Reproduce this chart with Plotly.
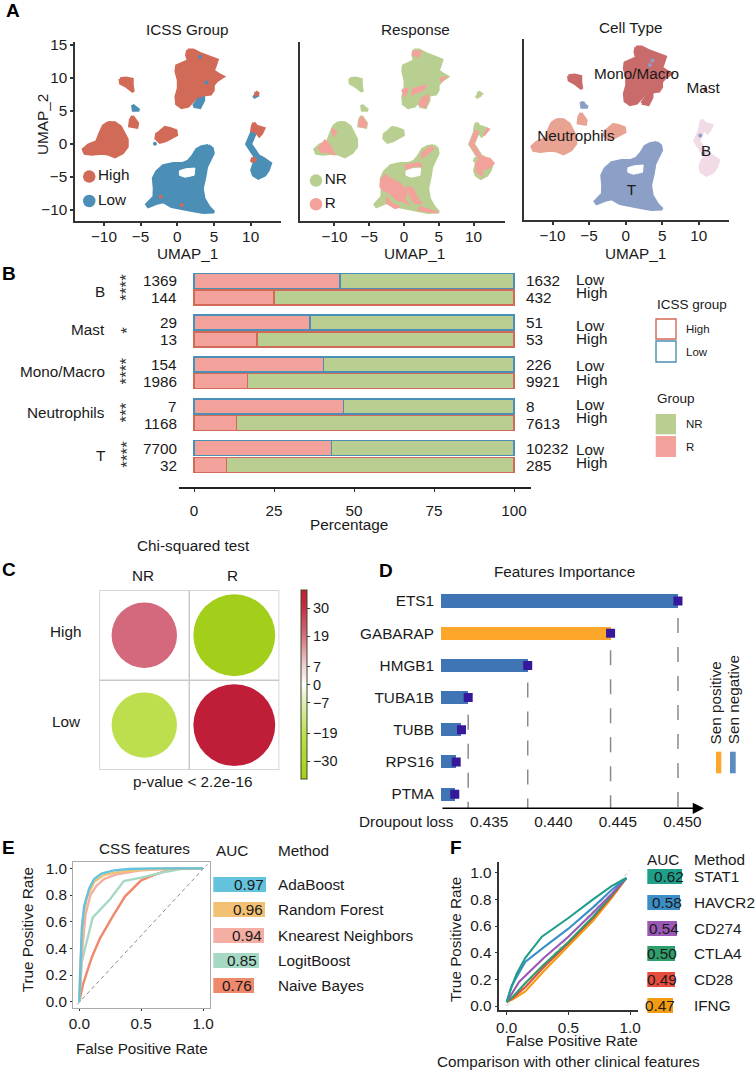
import plotly.graph_objects as go

W, H = 755, 1071
FONT = "Liberation Sans"
FS = 15.3
INK = "#1a1a1a"

# ---- Panel A: cluster outlines (x list, y list) ----
mono_x = [1.41, 2.18, 3.09, 4.23, 5.45, 5.14, 4.91, 5.59, 6.27, 5.36, 4.91, 4.91, 4.55, 3.55, 2.64, 2.05, 1.5, 0.59,
          -0.09, -0.18, 0.14, 0.14, -0.18, -0.09, 0.73, 1.5, 1.27]
mono_y = [14.23, 14.23, 13.73, 13.22, 12.72, 11.7, 11.09, 10.59, 10.18, 9.52, 8.92, 8.16, 7.55, 7.4, 7.14, 6.38, 5.72,
          5.47, 6.03, 7.14, 8.41, 9.68, 10.94, 11.85, 12.2, 12.61, 13.47]
mono_low_x = [2.2, 2.9, 3.6, 3.6, 3.1]
mono_low_y = [5.7, 6.9, 7.4, 6.6, 5.5]
mono2_x = [-7.82, -7.0, -6.14, -6.14, -6.0, -6.36, -7.0, -7.73]
mono2_y = [9.88, 9.98, 9.78, 8.92, 7.9, 8.26, 8.76, 9.17]
speck_x = [-6.1, -5.2, -6.0]
speck_y = [5.9, 5.1, 5.1]
neu2_x = [-6.1, -5.4, -5.5, -6.5, -6.4]
neu2_y = [4.2, 3.1, 2.5, 2.7, 3.6]
neu_x = [-9.41, -8.5, -7.73, -7.27, -6.82, -6.82, -7.45, -8.5, -9.41, -10.32, -11.68, -12.59, -12.82, -12.14, -11.0,
         -10.55, -10.09]
neu_y = [3.24, 3.19, 2.58, 1.57, 0.66, -0.46, -1.37, -1.98, -1.57, -1.47, -1.62, -1.47, -0.86, -0.2, 0.3, 1.57, 2.68]
neu3_x = [-2.36, -1.68, -1.0, -0.18, -0.09, -0.77, -1.55, -2.36, -2.91, -2.82]
neu3_y = [1.82, 2.48, 2.33, 1.98, 1.32, 0.96, 0.46, 0.2, 0.81, 1.47]
t_x = [4.23, 4.77, 4.91, 4.45, 4.0, 3.77, 3.41, 3.64, 4.36, 5.0, 3.55, 2.18, 0.59, -0.77, -1.91, -2.82, -3.95, -4.18,
       -3.18, -3.14, -3.27, -2.82, -1.91, -0.55, 0.73, 1.5, 2.09, 2.64, 3.32]
t_y = [-0.25, -0.71, -1.47, -2.38, -3.5, -5.02, -6.79, -8.31, -9.68, -10.38, -10.44, -10.18, -9.88, -9.57, -8.81,
       -9.07, -9.57, -9.22, -8.05, -6.79, -5.27, -4.26, -3.34, -2.99, -2.99, -2.63, -1.87, -0.86, -0.46]
hole_x = [0.3, 1.2, 2.4, 2.3, 1.05, 0.3]
hole_y = [-4.1, -3.8, -3.7, -4.8, -5.1, -4.8]
b_low_x = [11.14, 11.73, 12.73, 12.41, 11.95, 11.05, 10.36, 10.14, 10.45, 10.91]
b_low_y = [-1.87, -2.23, -2.99, -4.0, -4.76, -5.27, -4.76, -4.0, -2.99, -2.38]
b_strip_x = [10.23, 10.73, 10.0, 11.18, 10.82, 9.45]
b_strip_y = [1.98, 1.82, -0.05, -1.98, -2.38, -0.05]
b_high_x = [10.45, 10.82, 11.82, 11.5, 11.18, 10.73, 10.14, 10.23]
b_high_y = [3.19, 2.68, 2.33, 1.57, 1.17, 1.82, 1.98, 2.68]
mast_hi_x = [10.7, 11.1, 10.7]
mast_hi_y = [7.9, 7.6, 7.4]
mast_lo_x = [10.7, 10.9, 10.4]
mast_lo_y = [7.5, 7.3, 7.0]
b_spot_x = [10.3, 10.7, 10.1]
b_spot_y = [-2.1, -2.5, -2.7]

# stray cells visible on top of the clusters
high_dots_x = [-2.27, 0.6]
high_dots_y = [-8.05, -9.3]
low_dots_x = [3.1, 4.0, -3.05]
low_dots_y = [13.2, 9.3, 0.0]
type_dots_x = [3.65, 3.3, 10.2, 10.6, -5.8, 10.9]
type_dots_y = [12.2, 11.5, 0.8, -2.0, 5.7, 7.8]
type_dots_c = ["T", "T", "T", "T", "T", "Mast"]

# responder patches of the Response panel
r_patches = [
    ([1.25, 2.5, 2.1, 1.25], [14.1, 14.0, 13.2, 13.5]),
    ([-0.3, 0.6, 0.15], [8.2, 8.4, 7.1]),
    ([1.3, 3.3, 2.8, 1.1], [8.4, 8.9, 8.2, 7.4]),
    ([2.1, 2.5, 3.5, 3.5, 3.0], [5.9, 6.9, 7.4, 6.6, 5.5]),
    ([5.2, 6.1, 5.4], [9.9, 10.2, 9.4]),
    ([-12.33, -11.37, -10.65, -9.93, -11.13, -11.85], [-0.71, 0.56, -0.2, -1.72, -1.22, -1.37]),
    ([-10.41, -9.69, -10.17], [2.33, 1.82, 1.06]),
    ([-3.36, -2.73, -1.53, -0.58, 0.38, 0.14, 0.86, -0.1, -1.05, -2.01, -2.97, -3.45],
     [-5.52, -4.76, -5.52, -6.03, -7.04, -8.56, -9.32, -8.81, -8.56, -7.55, -7.04, -6.54]),
    ([0.38, 1.34, 1.82, 2.54, 1.58, 0.86], [-6.54, -6.79, -8.05, -9.07, -9.07, -8.05]),
    ([-2.49, -1.77, -0.58, -1.29, -2.49], [-8.05, -9.07, -9.57, -9.83, -9.07]),
    ([2.3, 3.74, 4.94, 3.26, 2.06], [-9.57, -10.08, -10.44, -10.33, -10.08]),
    ([2.54, 3.74, 4.32, 3.5, 2.54], [-1.47, -0.46, -0.71, -1.37, -2.23]),
    ([0.14, 2.3, 2.54, 1.34, 0.38], [-3.24, -2.89, -3.5, -3.34, -4.0]),
    ([10.26, 11.17, 12.37, 12.95, 12.13, 11.17, 11.32, 10.46], [-2.99, -1.98, -2.23, -2.99, -3.75, -4.0, -5.02, -4.26]),
    (b_strip_x, b_strip_y),
    ([11.9, 12.3, 11.5], [2.3, 2.2, 1.2]),
    (neu2_x, neu2_y),
]

# ---- Panel B ----
cell_types = ["B", "Mast", "Mono/Macro", "Neutrophils", "T"]
stars = ["****", "*", "****", "***", "****"]
low_r = [1369, 29, 154, 7, 7700]
low_nr = [1632, 51, 226, 8, 10232]
high_r = [144, 13, 1986, 1168, 32]
high_nr = [432, 53, 9921, 7613, 285]
pct_ticks = [0, 25, 50, 75, 100]

# ---- Panel C ----
chi_cols = ["NR", "R"]
chi_rows = ["High", "Low"]
chi_values = [[20, -37], [-20, 37]]
chi_ticks = [30, 19, 7, 0, -7, -19, -30]

# ---- Panel D ----
genes = ["ETS1", "GABARAP", "HMGB1", "TUBA1B", "TUBB", "RPS16", "PTMA"]
dropout = [0.44966, 0.44443, 0.43800, 0.43338, 0.43286, 0.43245, 0.43234]
sen_sign = ["neg", "pos", "neg", "neg", "neg", "neg", "neg"]
loss_ticks = [0.435, 0.440, 0.445, 0.450]

# ---- Panel E ----
e_methods = ["AdaBoost", "Random Forest", "Knearest Neighbors", "LogitBoost", "Naive Bayes"]
e_auc = [0.97, 0.96, 0.94, 0.85, 0.76]
e_fpr = [
    [0, 0.01, 0.02, 0.04, 0.08, 0.12, 0.18, 0.28, 0.4, 0.6, 1],
    [0, 0.01, 0.03, 0.06, 0.12, 0.2, 0.3, 0.5, 0.7, 1],
    [0, 0.02, 0.05, 0.09, 0.14, 0.2, 0.3, 0.5, 0.7, 1],
    [0, 0.02, 0.06, 0.108, 0.25, 0.36, 0.5, 0.7, 0.85, 1],
    [0, 0.03, 0.1, 0.167, 0.27, 0.37, 0.5, 0.6, 0.7, 0.8, 1],
]
e_tpr = [
    [0, 0.35, 0.55, 0.72, 0.85, 0.92, 0.96, 0.985, 0.995, 1, 1],
    [0, 0.3, 0.62, 0.78, 0.9, 0.95, 0.97, 0.99, 0.998, 1],
    [0, 0.35, 0.65, 0.8, 0.87, 0.92, 0.955, 0.985, 0.995, 1],
    [0, 0.3, 0.45, 0.63, 0.77, 0.905, 0.93, 0.975, 1, 1],
    [0, 0.13, 0.33, 0.475, 0.64, 0.79, 0.91, 0.95, 0.98, 1, 1],
]

# ---- Panel F ----
f_methods = ["STAT1", "HAVCR2", "CD274", "CTLA4", "CD28", "IFNG"]
f_auc = [0.62, 0.58, 0.54, 0.50, 0.49, 0.47]
f_fpr = [
    [0, 0.03, 0.08, 0.15, 0.285, 0.5, 0.7, 0.85, 0.97],
    [0, 0.04, 0.1, 0.15, 0.3, 0.5, 0.7, 0.85, 0.97],
    [0, 0.05, 0.1, 0.3, 0.5, 0.7, 0.85, 0.97],
    [0, 0.05, 0.15, 0.3, 0.5, 0.7, 0.85, 0.97],
    [0, 0.05, 0.15, 0.3, 0.5, 0.7, 0.85, 0.97],
    [0, 0.05, 0.15, 0.3, 0.5, 0.7, 0.85, 0.97],
]
f_tpr = [
    [0.03, 0.12, 0.24, 0.36, 0.52, 0.66, 0.8, 0.9, 0.96],
    [0.03, 0.15, 0.25, 0.33, 0.44, 0.58, 0.74, 0.87, 0.96],
    [0.03, 0.1, 0.18, 0.36, 0.52, 0.7, 0.84, 0.96],
    [0.03, 0.07, 0.17, 0.31, 0.48, 0.67, 0.83, 0.96],
    [0.03, 0.06, 0.14, 0.29, 0.47, 0.66, 0.82, 0.96],
    [0.03, 0.05, 0.11, 0.26, 0.45, 0.64, 0.81, 0.96],
]

# ---- colours ----
C_HIGH, C_LOW = "#d26a58", "#4c8fb6"
C_NR, C_R = "#b9cf91", "#f2a29b"
C_MONO, C_NEU, C_T, C_B = "#c96b6b", "#e8a392", "#8b9fc7", "#f1dbe6"
E_COL = ["#63c2dc", "#f3c173", "#f5aea3", "#a5d9c3", "#f0886b"]
F_COL = ["#1f9e89", "#3a8fc7", "#9b59b6", "#2e9e6b", "#e74c3c", "#f39c12"]
BAR_NEG, BAR_POS = "#3f75b5", "#fca62a"


def xdom(a, b):
    return [a / W, b / W]


def ydom(t, b):
    return [1 - b / H, 1 - t / H]


def merge(polys):
    xs, ys = [], []
    for px, py in polys:
        xs += list(px) + [px[0], None]
        ys += list(py) + [py[0], None]
    return xs, ys


fig = go.Figure()
ann, shp = [], []


def txt(x, y, s, size=FS, anchor="center", angle=0, bold=False, color=INK):
    ann.append(dict(x=x / W, y=1 - y / H, xref="paper", yref="paper", text=f"<b>{s}</b>" if bold else s,
                    showarrow=False, xanchor=anchor, yanchor="middle", textangle=angle,
                    font=dict(family=FONT, size=size, color=color)))


def blob(polys, color, xa, ya, lw=3):
    xs, ys = merge(polys)
    fig.add_trace(go.Scatter(x=xs, y=ys, mode="lines", fill="toself", fillcolor=color,
                             line=dict(color=color, width=lw), xaxis=xa, yaxis=ya,
                             showlegend=False, hoverinfo="skip"))


def dots(x, y, color, xa, ya):
    fig.add_trace(go.Scatter(x=x, y=y, mode="markers", marker=dict(size=4, color=color, line=dict(width=0)),
                             xaxis=xa, yaxis=ya, showlegend=False, hoverinfo="skip"))


HOLE = (hole_x, hole_y)
HIGH_SET = [(mono_x, mono_y), (mono2_x, mono2_y), (neu2_x, neu2_y), (neu_x, neu_y), (neu3_x, neu3_y),
            (b_high_x, b_high_y), (mast_hi_x, mast_hi_y), (b_spot_x, b_spot_y)]
LOW_SET = [(t_x, t_y), (mono_low_x, mono_low_y), (speck_x, speck_y), (b_low_x, b_low_y),
           (b_strip_x, b_strip_y), (mast_lo_x, mast_lo_y)]

# A1
blob(LOW_SET, C_LOW, "x", "y")
blob(HIGH_SET, C_HIGH, "x", "y")
blob([HOLE], "#ffffff", "x", "y", lw=1)
dots(high_dots_x, high_dots_y, C_HIGH, "x", "y")
dots(low_dots_x, low_dots_y, C_LOW, "x", "y")
fig.add_trace(go.Scatter(x=[-12.0, -12.0], y=[-5.0, -8.7], mode="markers+text", text=["High", "Low"],
                         textposition="middle right", textfont=dict(family=FONT, size=FS, color=INK),
                         marker=dict(size=12.5, color=[C_HIGH, C_LOW]), xaxis="x", yaxis="y",
                         showlegend=False, hoverinfo="skip"))
# A2
blob(LOW_SET + HIGH_SET, C_NR, "x2", "y2")
blob(r_patches, C_R, "x2", "y2", lw=1.5)
blob([HOLE], "#ffffff", "x2", "y2", lw=1)
fig.add_trace(go.Scatter(x=[-12.66, -12.66], y=[-5.6, -9.2], mode="markers+text", text=["NR", "R"],
                         textposition="middle right", textfont=dict(family=FONT, size=FS, color=INK),
                         marker=dict(size=12.5, color=[C_NR, C_R]), xaxis="x2", yaxis="y2",
                         showlegend=False, hoverinfo="skip"))
# A3
blob([(mono_x, mono_y), (mono_low_x, mono_low_y), (mono2_x, mono2_y)], C_MONO, "x3", "y3")
blob([(neu_x, neu_y), (neu2_x, neu2_y), (neu3_x, neu3_y)], C_NEU, "x3", "y3")
blob([(t_x, t_y), (speck_x, speck_y)], C_T, "x3", "y3")
blob([(b_low_x, b_low_y), (b_strip_x, b_strip_y), (b_high_x, b_high_y)], C_B, "x3", "y3")
blob([HOLE], "#ffffff", "x3", "y3", lw=1)
dots(type_dots_x, type_dots_y, ["#b0455a" if c == "Mast" else C_T for c in type_dots_c], "x3", "y3")
fig.add_trace(go.Scatter(x=[1.5, 10.6, -6.8, 11.0, 0.8], y=[10, 7.9, 0.6, -1.7, -7.6], mode="text",
                         text=["Mono/Macro", "Mast", "Neutrophils", "B", "T"],
                         textfont=dict(family=FONT, size=FS, color=INK), xaxis="x3", yaxis="y3",
                         showlegend=False, hoverinfo="skip"))

# B
rows_y, rows_r, rows_nr, rows_line = [], [], [], []
for i in range(5):
    for off, rv, nv, col in ((0, low_r[i], low_nr[i], C_LOW), (16.8, high_r[i], high_nr[i], C_HIGH)):
        rows_y.append(i * 41.9 + off)
        rows_r.append(100 * rv / (rv + nv))
        rows_nr.append(100 * nv / (rv + nv))
        rows_line.append(col)
        txt(179.3, 280.7 + i * 41.9 + off, str(rv), anchor="right")
        txt(523.7, 280.7 + i * 41.9 + off, str(nv), anchor="left")
for name, vals, col in (("R", rows_r, C_R), ("NR", rows_nr, C_NR)):
    fig.add_trace(go.Bar(y=rows_y, x=vals, orientation="h", width=15, name=name, xaxis="x4", yaxis="y4",
                         marker=dict(color=col, line=dict(color=rows_line, width=1.3)),
                         showlegend=False, hoverinfo="skip"))
label_y = [291.7, 329, 371, 413, 455]
star_y = [287, 330, 370.7, 412.7, 454]
lowt_y = [279.3, 325, 365.3, 404.3, 449.3]
hight_y = [292.7, 338.3, 379, 418, 462.7]
for i, c in enumerate(cell_types):
    txt(107.3, label_y[i], c, anchor="right")
    txt(126.7, star_y[i], stars[i], size=17, angle=-90, color="#333333")
    txt(573.7, lowt_y[i], "Low", anchor="left")
    txt(573.7, hight_y[i], "High", anchor="left")
txt(349.3, 524, "Percentage")

txt(655, 304, "ICSS group", size=13.5, anchor="left")
txt(655, 398.7, "Group", size=13.5, anchor="left")


def paper_rect(x0, y0, x1, y1, fill, line):
    shp.append(dict(type="rect", xref="paper", yref="paper", x0=x0 / W, x1=x1 / W, y0=1 - y0 / H, y1=1 - y1 / H,
                    fillcolor=fill, line=dict(color=line, width=1.4 if line != fill else 0)))


paper_rect(656, 319, 676, 339, "rgba(255,255,255,0)", C_HIGH)
paper_rect(656, 341, 676, 362, "rgba(255,255,255,0)", C_LOW)
paper_rect(655.7, 414, 676, 434.3, C_NR, C_NR)
paper_rect(655.7, 436, 676, 457, C_R, C_R)
txt(684, 329, "High", size=11.5, anchor="left")
txt(684, 351.7, "Low", size=11.5, anchor="left")
txt(684, 424, "NR", size=11.5, anchor="left")
txt(684, 447, "R", size=11.5, anchor="left")

# C
cx, cy, cv, cs = [], [], [], []
for r in range(2):
    for c in range(2):
        v = chi_values[r][c]
        cx.append(c)
        cy.append(r)
        cv.append(v)
        cs.append(46 + 0.97 * abs(v))
for k, (a0, b0, a1, b1) in enumerate([(-0.5, -0.5, 1.5, 1.5), (0.5, -0.5, 0.5, 1.5), (-0.5, 0.5, 1.5, 0.5)]):
    shp.append(dict(type="rect" if k == 0 else "line", xref="x5", yref="y5", x0=a0, y0=b0, x1=a1, y1=b1,
                    line=dict(color="#c9c9c9", width=1.5), layer="below"))
fig.add_trace(go.Scatter(
    x=cx, y=cy, mode="markers", xaxis="x5", yaxis="y5", showlegend=False, hoverinfo="skip",
    marker=dict(size=cs, sizemode="diameter", opacity=1, color=cv, cmin=-37, cmax=37, line=dict(width=0),
                colorscale=[[0, "#a3cf1b"], [0.24, "#bfe04f"], [0.42, "#e4eec6"], [0.5, "#ffffff"],
                            [0.6, "#efcfd8"], [0.77, "#d4687c"], [0.92, "#c42a45"], [1, "#c01e38"]],
                colorbar=dict(x=301 / W, xanchor="left", y=1 - 590.3 / H, yanchor="top", len=189 / H,
                              thickness=6.3, thicknessmode="pixels", tickvals=chi_ticks,
                              tickfont=dict(family=FONT, size=14.5, color=INK), ticks="outside", ticklen=3,
                              tickcolor="#333333", outlinecolor="#3a4a20", outlinewidth=1, xpad=0, ypad=0))))
txt(193.3, 545.7, "Chi-squared test")
txt(193.3, 781.7, "p-value &lt; 2.2e-16")
txt(142.7, 575, chi_cols[0])
txt(232.7, 575, chi_cols[1])
txt(83.3, 631.7, chi_rows[0], anchor="right")
txt(83.3, 721.7, chi_rows[1], anchor="right")

# D
bar_colors = [BAR_NEG if s == "neg" else BAR_POS for s in sen_sign]
idx = list(range(len(genes)))
fig.add_trace(go.Bar(x=dropout, y=idx, orientation="h", width=0.404, marker=dict(color=bar_colors, line=dict(width=0)),
                     xaxis="x6", yaxis="y6", showlegend=False, hoverinfo="skip"))
for i in range(4):
    fig.add_trace(go.Scatter(x=[dropout[i], dropout[i]], y=[i + 0.53, 6.44], mode="lines",
                             line=dict(color="#8a8a8a", width=1.5, dash="15px,14px"), xaxis="x6", yaxis="y6",
                             showlegend=False, hoverinfo="skip"))
fig.add_trace(go.Scatter(x=dropout, y=idx, mode="markers", marker=dict(symbol="square", size=9, color="#36189a"),
                         xaxis="x6", yaxis="y6", showlegend=False, hoverinfo="skip"))
ann.append(dict(x=704 / W, y=1 - 808.3 / H, xref="paper", yref="paper", ax=-263, ay=0,
                axref="pixel", ayref="pixel", text="", showarrow=True, arrowhead=2, arrowsize=1.5,
                arrowwidth=1.5, arrowcolor="#000000"))
txt(564, 571.7, "Features Importance")
txt(357.3, 821.7, "Droupout loss", anchor="left")
txt(715.7, 702.8, "Sen positive", angle=-90)
txt(733.3, 700, "Sen negative", angle=-90)
paper_rect(716, 751.7, 721.3, 773.3, BAR_POS, BAR_POS)
paper_rect(730, 751.7, 735.7, 773.3, "#5a8cc0", "#5a8cc0")

# E
fig.add_trace(go.Scatter(x=[-0.016, 1.035], y=[-0.02, 1.03], mode="lines", xaxis="x7", yaxis="y7",
                         line=dict(color="#8c8c8c", width=1, dash="4px,3px"), showlegend=False, hoverinfo="skip"))
for i in range(4, -1, -1):
    fig.add_trace(go.Scatter(x=e_fpr[i], y=e_tpr[i], mode="lines", xaxis="x7", yaxis="y7",
                             line=dict(color=E_COL[i], width=2.4), showlegend=False, hoverinfo="skip"))
fig.add_trace(go.Bar(x=e_auc, y=e_methods, orientation="h", width=0.59, marker=dict(color=E_COL, line=dict(width=0)),
                     xaxis="x8", yaxis="y8", showlegend=False, hoverinfo="skip"))
for i, m in enumerate(e_methods):
    ann.append(dict(x=e_auc[i], y=m, xref="x8", yref="y8", text=f"{e_auc[i]:.2f}", showarrow=False, xanchor="right",
                    yanchor="middle", font=dict(family=FONT, size=FS, color=INK)))
    ann.append(dict(x=276 / W, y=m, xref="paper", yref="y8", text=m, showarrow=False, xanchor="left",
                    yanchor="middle", font=dict(family=FONT, size=FS, color=INK)))
txt(144, 848.3, "CSS features")
txt(231.7, 850, "AUC")
txt(276, 850, "Method", anchor="left")
txt(142.3, 1048.3, "False Positive Rate")
txt(27.3, 930, "True Positive Rate", angle=-90)

# F
fig.add_trace(go.Scatter(x=[0, 1.0], y=[0.0, 1.02], mode="lines", xaxis="x9", yaxis="y9",
                         line=dict(color="#c4c4c4", width=1, dash="4px,3px"), showlegend=False, hoverinfo="skip"))
for i in range(5, -1, -1):
    fig.add_trace(go.Scatter(x=f_fpr[i], y=f_tpr[i], mode="lines", xaxis="x9", yaxis="y9",
                             line=dict(color=F_COL[i], width=2.1), showlegend=False, hoverinfo="skip"))
fig.add_trace(go.Bar(x=f_auc, y=f_methods, orientation="h", width=0.58, marker=dict(color=F_COL, line=dict(width=0)),
                     xaxis="x10", yaxis="y10", showlegend=False, hoverinfo="skip"))
for i, m in enumerate(f_methods):
    ann.append(dict(x=f_auc[i], y=m, xref="x10", yref="y10", text=f"{f_auc[i]:.2f}", showarrow=False, xanchor="right",
                    xshift=4, yanchor="middle", font=dict(family=FONT, size=FS, color=INK)))
    ann.append(dict(x=692.3 / W, y=m, xref="paper", yref="y10", text=m, showarrow=False, xanchor="left",
                    yanchor="middle", font=dict(family=FONT, size=FS, color=INK)))
txt(663.3, 859.3, "AUC")
txt(691.7, 859.3, "Method", anchor="left")
txt(571.7, 1040, "False Positive Rate")
txt(455, 940, "True Positive Rate", angle=-90)
txt(568.3, 1061.7, "Comparison with other clinical features")

for s, x, y in (("A", 13, 11), ("B", 9, 273), ("C", 9, 569), ("D", 386, 570), ("E", 8, 847), ("F", 456, 847)):
    txt(x, y, s, size=19, bold=True, color="#000000")

txt(42, 125, "UMAP_2", angle=-90)
for x in (187, 414, 635):
    txt(x, 253, "UMAP_1")
txt(187, 29, "ICSS Group")
txt(415, 29, "Response")
txt(631, 27, "Cell Type")

TF = dict(family=FONT, size=FS, color=INK)
DARK = "#333333"


def ax(dom, rng, anchor, **kw):
    d = dict(domain=dom, range=rng, anchor=anchor, showgrid=False, zeroline=False, tickfont=TF,
             showline=False, ticks="", showticklabels=False)
    d.update(kw)
    return d


UMAP_TICKS = [-10, -5, 0, 5, 10]
UX = dict(showline=True, linecolor=DARK, linewidth=2, ticks="outside", ticklen=3, tickcolor=DARK, tickwidth=1.5,
          showticklabels=True, tickvals=UMAP_TICKS, ticklabelstandoff=-2)
UY = dict(showline=True, linecolor=DARK, linewidth=2)

fig.update_layout(
    width=W, height=H, margin=dict(l=0, r=0, t=0, b=0, autoexpand=False), paper_bgcolor="white",
    plot_bgcolor="rgba(0,0,0,0)", barmode="stack", showlegend=False, annotations=ann, shapes=shp,
    font=dict(family=FONT),
    xaxis=ax(xdom(75.3, 280.7), [-13.9, 14.1], "y", **UX),
    yaxis=ax(ydom(41.7, 220.7), [-11.7, 15.5], "x", ticks="outside", ticklen=3, tickcolor=DARK, tickwidth=1.5,
             showticklabels=True, tickvals=[-10, -5, 0, 5, 10, 15], **UY),
    xaxis2=ax(xdom(300, 505), [-14.96, 14.53], "y2", **UX),
    yaxis2=ax(ydom(41.7, 220.7), [-11.7, 15.5], "x2", **UY),
    xaxis3=ax(xdom(524, 729), [-13.9, 14.13], "y3", **UX),
    yaxis3=ax(ydom(39.3, 220), [-12.05, 15.41], "x3", **UY),
    xaxis4=ax(xdom(179, 530.7), [-4.69, 105.2], "y4", showline=True, linecolor="#222222", linewidth=1.5,
              ticks="outside", ticklen=3, tickcolor=DARK, showticklabels=True, tickvals=pct_ticks,
              ticklabelstandoff=6),
    yaxis4=ax(ydom(270, 487), [206.3, -10.7], "x4"),
    xaxis5=ax(xdom(99.3, 279.3), [-0.5, 1.5], "y5"),
    yaxis5=ax(ydom(590.3, 770), [1.5, -0.5], "x5"),
    xaxis6=ax(xdom(441, 704), [0.43127, 0.45168], "y6", showticklabels=True, tickvals=loss_ticks,
              tickformat=".3f", ticklabelstandoff=2),
    yaxis6=ax(ydom(584.9, 808.3), [6.44, -0.5], "x6", showticklabels=True, tickvals=idx, ticktext=genes,
              ticklabelstandoff=6),
    xaxis7=ax(xdom(73.3, 210.3), [-0.0485, 1.059], "y7", showline=True, mirror=True, linecolor="#ababab",
              linewidth=1.3, ticks="outside", ticklen=2, tickcolor=DARK, showticklabels=True, tickvals=[0, 0.5, 1],
              tickformat=".1f"),
    yaxis7=ax(ydom(861.7, 1007.7), [-0.045, 1.05], "x7", showline=True, mirror=True, linecolor="#ababab",
              linewidth=1.3, ticks="outside", ticklen=2, tickcolor=DARK, showticklabels=True,
              tickvals=[0, 0.2, 0.4, 0.6, 0.8, 1], tickformat=".1f"),
    xaxis8=ax(xdom(213.3, 320), [0, 1.976], "y8"),
    yaxis8=ax(ydom(871.6, 998.7), [4.5, -0.5], "x8", type="category", categoryorder="array",
              categoryarray=e_methods),
    xaxis9=ax(xdom(499.3, 638.3), [-0.06, 1.067], "y9", showline=True, linecolor=DARK, linewidth=1.5,
              ticks="outside", ticklen=3, tickcolor=DARK, showticklabels=True, tickvals=[0, 0.5, 1], tickformat=".1f"),
    yaxis9=ax(ydom(862.3, 1010), [-0.03, 1.078], "x9", showline=True, linecolor=DARK, linewidth=1.5,
              ticks="outside", ticklen=3, tickcolor=DARK, showticklabels=True,
              tickvals=[0, 0.2, 0.4, 0.6, 0.8, 1], tickformat=".1f"),
    xaxis10=ax(xdom(647.3, 755), [0, 1.937], "y10"),
    yaxis10=ax(ydom(864, 1018), [5.5, -0.5], "x10", type="category", categoryorder="array",
               categoryarray=f_methods),
)

fig.write_html("out.html", config={"displayModeBar": False}, post_script="document.body.style.margin='0';")
